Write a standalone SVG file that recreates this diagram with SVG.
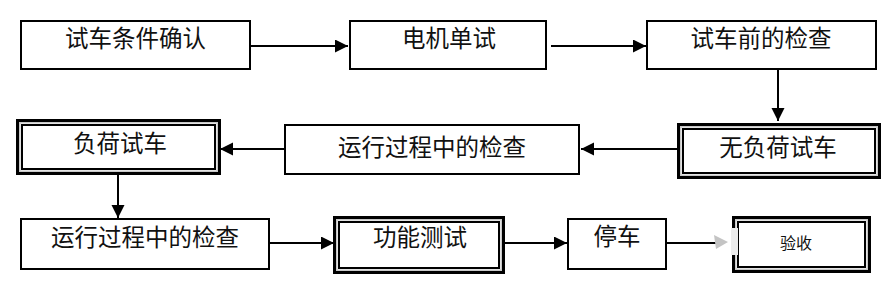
<svg xmlns="http://www.w3.org/2000/svg" width="893" height="282" viewBox="0 0 893 282">
<style>
.box{fill:#fff;stroke:#000;stroke-width:2}
.outer{fill:#fff;stroke:#000;stroke-width:3}
.gap{fill:none;stroke:#c8c8c8;stroke-width:1.5}
.inner{fill:none;stroke:#000;stroke-width:2}
.t{font-family:"Noto Sans CJK SC","Noto Sans CJK JP",sans-serif;font-size:23.5px;fill:#111;text-anchor:middle}
.s{font-size:16px}
.c{fill:none;stroke:#000;stroke-width:2}
</style>
<defs>
<marker id="ah" markerUnits="userSpaceOnUse" markerWidth="14" markerHeight="14" refX="13" refY="6.5" orient="auto">
<path d="M0,0 L13,6.5 L0,13 Z" fill="#000"/>
</marker>
</defs>
<rect width="893" height="282" fill="#fff"/>
<g id="connectors">
<line class="c" x1="251" y1="46" x2="348" y2="46" marker-end="url(#ah)"/>
<line class="c" x1="551" y1="46" x2="646" y2="46" marker-end="url(#ah)"/>
<line class="c" x1="778" y1="70" x2="778" y2="121" marker-end="url(#ah)"/>
<line class="c" x1="677" y1="149" x2="581" y2="149" marker-end="url(#ah)"/>
<line class="c" x1="284" y1="149" x2="220" y2="149" marker-end="url(#ah)"/>
<line class="c" x1="118" y1="175" x2="118" y2="218" marker-end="url(#ah)"/>
<line class="c" x1="270" y1="243" x2="334" y2="243" marker-end="url(#ah)"/>
<line class="c" x1="505" y1="243" x2="567" y2="243" marker-end="url(#ah)"/>
<line class="c" x1="663" y1="243" x2="716" y2="243"/>
<path d="M714,235 L728,242 L716,249 Z" fill="#c4c4c4"/>
</g>
<g id="n1"><rect class="box" x="21" y="21" width="229" height="48"/><text class="t" x="135.5" y="47">试车条件确认</text></g>
<g id="n2"><rect class="box" x="350" y="21" width="196" height="48"/><text class="t" x="449" y="47">电机单试</text></g>
<g id="n3"><rect class="box" x="647" y="21" width="229" height="48"/><text class="t" x="761" y="47">试车前的检查</text></g>
<g id="n4"><rect class="outer" x="678.5" y="124.5" width="201" height="53"/><rect class="gap" x="680.75" y="126.75" width="196.5" height="48.5"/><rect class="inner" x="683" y="129" width="192" height="44"/><text class="t" x="778" y="156">无负荷试车</text></g>
<g id="n5"><rect class="box" x="285" y="125" width="294" height="49"/><text class="t" x="432" y="156">运行过程中的检查</text></g>
<g id="n6"><rect class="outer" x="17.5" y="120.5" width="202" height="53"/><rect class="gap" x="19.75" y="122.75" width="197.5" height="48.5"/><rect class="inner" x="22" y="125" width="193" height="44"/><text class="t" x="120" y="152">负荷试车</text></g>
<g id="n7"><rect class="box" x="21" y="219" width="248" height="50"/><text class="t" x="145" y="246">运行过程中的检查</text></g>
<g id="n8"><rect class="outer" x="334.5" y="217.5" width="169" height="55"/><rect class="gap" x="336.75" y="219.75" width="164.5" height="50.5"/><rect class="inner" x="339" y="222" width="160" height="46"/><text class="t" x="420" y="246">功能测试</text></g>
<g id="n9"><rect class="box" x="568" y="219" width="98" height="50"/><text class="t" x="617" y="245">停车</text></g>
<g id="n10"><rect class="outer" x="733.5" y="217.5" width="136" height="54"/><rect class="gap" x="735.75" y="219.75" width="131.5" height="49.5"/><rect class="inner" x="738" y="222" width="127" height="45"/><rect x="731" y="228" width="7" height="27" fill="#ececec"/><text class="t s" x="796" y="249">验收</text></g>
</svg>
